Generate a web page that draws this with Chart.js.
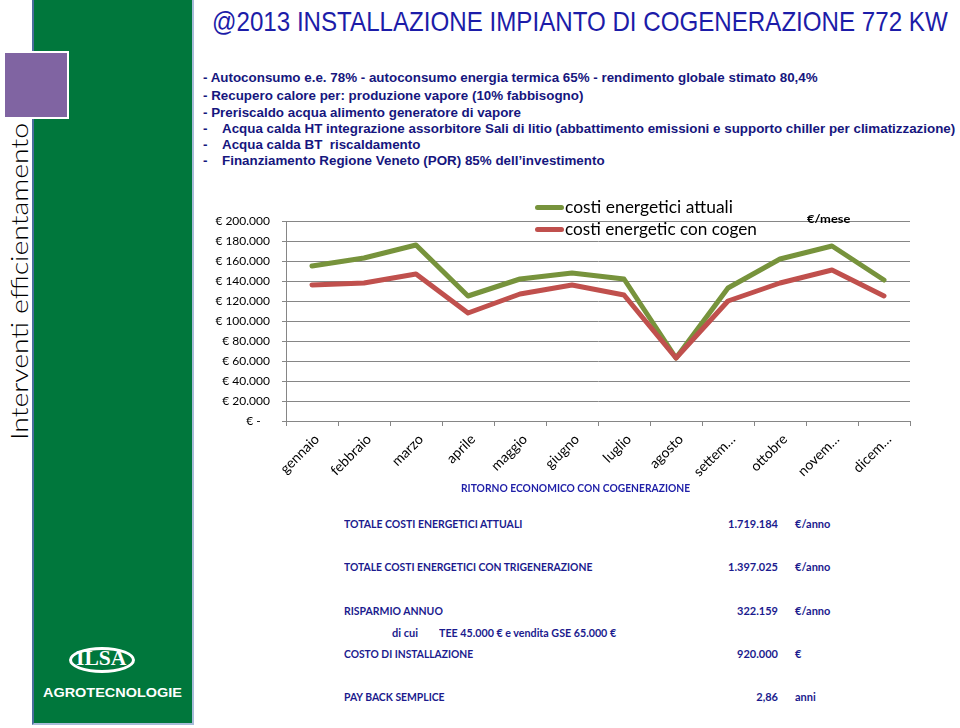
<!DOCTYPE html>
<html><head><meta charset="utf-8">
<script src="https://cdn.jsdelivr.net/npm/chart.js@4.4.1/dist/chart.umd.min.js"></script>
<style>
html,body{margin:0;padding:0;background:#fff;}
body{width:960px;height:728px;position:relative;overflow:hidden;}
.t{position:absolute;white-space:nowrap;line-height:1;transform-origin:0 50%;}
#panel{position:absolute;left:32px;top:0;width:158px;height:723px;background:#00773c;border-left:2px solid #4b6d9c;border-right:2px solid #a7bcd9;border-bottom:2px solid #a7bcd9;}
#purple{position:absolute;left:3px;top:51px;width:62px;height:64px;background:#8064a2;border:2px solid #fff;}
#ellipse{position:absolute;left:69px;top:647px;width:60px;height:20px;border:3px solid #fff;border-radius:50%;}
.lines{font-family:"Liberation Sans Narrow","Liberation Sans",Arial,sans-serif;font-weight:bold;font-size:13.5px;color:#16167e;}
.tab{font-family:Lato,"Open Sans",sans-serif;font-weight:bold;font-size:11px;color:#1b1b8e;}
.leg{position:absolute;height:5px;border-radius:3px;}
canvas{position:absolute;left:200px;top:195px;}
</style>
</head><body>
<div id="panel"></div>
<div id="purple"></div>
<div class="t" id="vert" data-w="317" data-pre="rotate(-90deg)" style="left:7.5px;top:440px;transform-origin:0 0;font-family:Lato,sans-serif;font-weight:300;font-size:23px;color:#000;">Interventi efficientamento</div>
<div id="ellipse"></div>
<div class="t" data-w="50" style="left:76px;top:647px;font-family:'Liberation Serif',serif;font-weight:bold;font-size:22px;color:#fff;">ILSA</div>
<div class="t" data-w="139" style="left:43px;top:686px;font-family:'Liberation Sans',Arial,sans-serif;font-weight:bold;font-size:13px;color:#fff;">AGROTECNOLOGIE</div>

<div class="t" data-w="736" style="left:212px;top:7.5px;font-family:'Liberation Sans',Arial,sans-serif;font-size:28px;color:#1c1ca8;">@2013 INSTALLAZIONE IMPIANTO DI COGENERAZIONE 772 KW</div>

<div class="t lines" id="L1" data-w="615" style="left:203px;top:71px;">- Autoconsumo e.e. 78% - autoconsumo energia termica 65% - rendimento globale stimato 80,4%</div>
<div class="t lines" data-from="L1" style="left:203px;top:89px;">- Recupero calore per: produzione vapore (10% fabbisogno)</div>
<div class="t lines" data-from="L1" style="left:203px;top:105.5px;">- Preriscaldo acqua alimento generatore di vapore</div>
<div class="t lines" style="left:203px;top:122px;">-</div>
<div class="t lines" data-from="L1" style="left:222px;top:122px;">Acqua calda HT integrazione assorbitore Sali di litio (abbattimento emissioni e supporto chiller per climatizzazione)</div>
<div class="t lines" style="left:203px;top:138px;">-</div>
<div class="t lines" data-from="L1" style="left:222px;top:138px;">Acqua calda BT&nbsp; riscaldamento</div>
<div class="t lines" style="left:203px;top:154px;">-</div>
<div class="t lines" data-from="L1" style="left:222px;top:154px;">Finanziamento Regione Veneto (POR) 85% dell’investimento</div>

<canvas id="c" width="730" height="300"></canvas>

<div class="leg" style="left:535px;top:205px;width:29px;background:#77933c;"></div>
<div class="leg" style="left:535px;top:227px;width:29px;background:#c0504d;"></div>
<div class="t" data-w="168" style="left:565px;top:198px;font-family:Lato,sans-serif;font-size:17px;color:#000;">costi energetici attuali</div>
<div class="t" data-w="192" style="left:565px;top:220px;font-family:Lato,sans-serif;font-size:17px;color:#000;">costi energetic con cogen</div>
<div class="t" data-w="43" style="left:807px;top:212.5px;font-family:Lato,sans-serif;font-weight:bold;font-size:12px;color:#000;">€/mese</div>

<div class="t tab" data-w="229" style="left:461px;top:482px;color:#1f1fa8;">RITORNO ECONOMICO CON COGENERAZIONE</div>

<div class="t tab" data-w="178" style="left:344px;top:518px;">TOTALE COSTI ENERGETICI ATTUALI</div>
<div class="t tab" style="right:182px;top:518px;">1.719.184</div>
<div class="t tab" style="left:795px;top:518px;">€/anno</div>

<div class="t tab" data-w="248" style="left:344px;top:561px;">TOTALE COSTI ENERGETICI CON TRIGENERAZIONE</div>
<div class="t tab" style="right:182px;top:561px;">1.397.025</div>
<div class="t tab" style="left:795px;top:561px;">€/anno</div>

<div class="t tab" data-w="99" style="left:344px;top:605px;">RISPARMIO ANNUO</div>
<div class="t tab" style="right:182px;top:605px;">322.159</div>
<div class="t tab" style="left:795px;top:605px;">€/anno</div>

<div class="t tab" data-w="26" style="left:392px;top:627px;">di cui</div>
<div class="t tab" data-w="177" style="left:439px;top:627px;">TEE 45.000 € e vendita GSE 65.000 €</div>

<div class="t tab" data-w="129" style="left:344px;top:648px;">COSTO DI INSTALLAZIONE</div>
<div class="t tab" style="right:182px;top:648px;">920.000</div>
<div class="t tab" style="left:795px;top:648px;">€</div>

<div class="t tab" data-w="101" style="left:344px;top:691px;">PAY BACK SEMPLICE</div>
<div class="t tab" style="right:182px;top:691px;">2,86</div>
<div class="t tab" style="left:795px;top:691px;">anni</div>

<script>
const months = ['gennaio','febbraio','marzo','aprile','maggio','giugno','luglio','agosto','settembre','ottobre','novembre','dicembre'];
const monthTickLabels = ['gennaio','febbraio','marzo','aprile','maggio','giugno','luglio','agosto','settem…','ottobre','novem…','dicem…'];
const seriesNames = ['costi energetici attuali','costi energetic con cogen'];
const costiAttuali = [155000,163000,176000,125000,142000,148000,142000,63000,133000,162000,175000,141000];
const costiCogen = [136000,138000,147000,108000,127000,136000,126000,63000,120000,138000,151000,125000];
const yMin = 0, yMax = 200000, yStep = 20000;

function fmtEuro(v){
  if (v === 0) return '€ -   ';
  return '€ ' + String(v).replace(/\B(?=(\d{3})+(?!\d))/g, '.');
}

function fitAll(){
  const scales = {};
  document.querySelectorAll('[data-w]').forEach(el=>{
    el.style.transform = el.dataset.pre || 'none';
    const s = parseFloat(el.dataset.w) / el.offsetWidth;
    if (el.id) scales[el.id] = s;
    el.style.transform = (el.dataset.pre || '') + ' scaleX(' + s + ')';
  });
  document.querySelectorAll('[data-from]').forEach(el=>{
    const s = scales[el.dataset.from] || 1;
    el.style.transform = 'scaleX(' + s + ')';
  });
}

Chart.defaults.font.family = "Lato, 'Open Sans', sans-serif";
const gridColor = '#868686';
const chart = new Chart(document.getElementById('c'), {
  type: 'line',
  data: {
    labels: months,
    datasets: [
      {label: seriesNames[1], data: costiCogen, borderColor: '#c0504d', order: 1},
      {label: seriesNames[0], data: costiAttuali, borderColor: '#77933c', order: 2}
    ].map(d => Object.assign(d, {borderWidth: 5, pointRadius: 0, tension: 0, fill: false,
      borderJoinStyle: 'round', borderCapStyle: 'round'}))
  },
  options: {
    responsive: false,
    animation: false,
    layout: {padding: {top: 26, right: 20, left: 0, bottom: 0}},
    plugins: {legend: {display: false}, tooltip: {enabled: false}},
    scales: {
      x: {
        offset: true,
        grid: {offset: true, drawOnChartArea: false, drawTicks: true, tickLength: 5, color: gridColor},
        border: {color: gridColor},
        ticks: {autoSkip: false, maxRotation: 45, minRotation: 45, padding: 5, labelOffset: 5, color: '#000',
          font: {size: 14}, callback: (v, i) => monthTickLabels[i]},
        afterFit: s => { s.height = 74; }
      },
      y: {
        min: yMin, max: yMax,
        ticks: {stepSize: yStep, padding: 12, color: '#000', font: {size: 12}, callback: v => fmtEuro(v)},
        grid: {color: gridColor, tickLength: 4},
        border: {color: gridColor},
        afterFit: s => { s.width = 86; }
      }
    }
  }
});

fitAll();
if (document.fonts && document.fonts.ready) {
  document.fonts.ready.then(() => { fitAll(); chart.update(); });
}
</script>
</body></html>
